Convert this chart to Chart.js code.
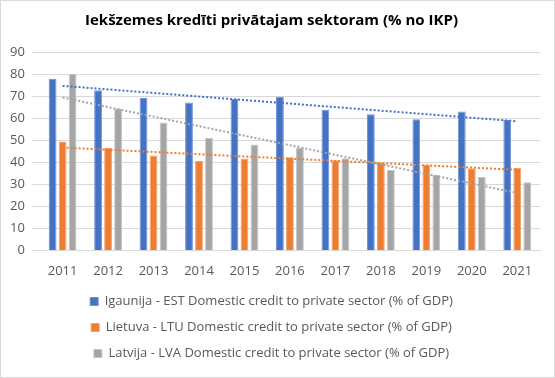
<!DOCTYPE html>
<html>
<head>
<meta charset="utf-8">
<script src="https://cdn.jsdelivr.net/npm/chart.js@4"></script>
<style>
  html, body { margin: 0; padding: 0; background: #fff; }
  #wrap { position: relative; width: 553px; height: 376px; border: 1px solid #d9d9d9; }
</style>
</head>
<body>
<div id="wrap"><canvas id="chart" width="553" height="376"></canvas></div>
<script>
// Data
const years = ['2011', '2012', '2013', '2014', '2015', '2016', '2017', '2018', '2019', '2020', '2021'];
const estValues = [77.9, 72.7, 69.1, 67.1, 68.8, 69.7, 63.8, 61.8, 59.5, 63.0, 59.2];
const ltuValues = [49.4, 46.4, 43.0, 40.6, 41.7, 42.3, 40.9, 39.9, 38.8, 37.3, 37.4];
const lvaValues = [80.0, 64.4, 58.0, 51.0, 48.0, 46.5, 41.8, 36.5, 34.2, 33.3, 30.9];
const yTicks = [0, 10, 20, 30, 40, 50, 60, 70, 80, 90];

const labelColor = '#595959';
const fontFamily = "'Open Sans', sans-serif";

// Linear trendline (least squares), as Excel draws it
function trendline(values) {
    const n = values.length;
    let sx = 0, sy = 0, sxy = 0, sxx = 0;
    values.forEach((y, x) => { sx += x; sy += y; sxy += x * y; sxx += x * x; });
    const slope = (n * sxy - sx * sy) / (n * sxx - sx * sx);
    const intercept = (sy - slope * sx) / n;
    return values.map((_, x) => intercept + slope * x);
}

function barSet(label, data, color, border) {
    return {
        type: 'bar',
        label: label,
        data: data,
        backgroundColor: color,
        borderColor: border,
        borderWidth: 1,
        categoryPercentage: 0.66,
        barPercentage: 0.78,
        order: 2
    };
}

function trendSet(data, color) {
    return {
        type: 'line',
        label: 'trend',
        data: trendline(data),
        borderColor: color,
        borderWidth: 2,
        borderDash: [2, 2],
        pointRadius: 0,
        fill: false,
        order: 1
    };
}

new Chart(document.getElementById('chart'), {
    data: {
        labels: years,
        datasets: [
            barSet('Igaunija - EST Domestic credit to private sector (% of GDP)', estValues, '#4472c4', '#6f93d6'),
            barSet('Lietuva - LTU Domestic credit to private sector (% of GDP)', ltuValues, '#ed7d31', '#f3a06c'),
            barSet('Latvija - LVA Domestic credit to private sector (% of GDP)', lvaValues, '#a5a5a5', '#c4c4c4'),
            trendSet(estValues, '#4472c4'),
            trendSet(ltuValues, '#ed7d31'),
            trendSet(lvaValues, '#a5a5a5')
        ]
    },
    options: {
        responsive: false,
        animation: false,
        layout: { padding: { left: 2, right: 14, top: 6, bottom: 7 } },
        scales: {
            x: {
                grid: { display: false },
                border: { color: '#d9d9d9' },
                ticks: { color: labelColor, font: { family: fontFamily, size: 13 }, padding: 5 },
                afterFit: axis => { axis.height -= 2; }
            },
            y: {
                min: 0,
                max: 90,
                afterBuildTicks: axis => { axis.ticks = yTicks.map(v => ({ value: v })); },
                grid: { color: '#d9d9d9' },
                border: { display: false },
                ticks: { color: labelColor, font: { family: fontFamily, size: 13 }, padding: 7 }
            }
        },
        plugins: {
            title: {
                display: true,
                text: 'Iekšzemes kredīti privātajam sektoram (% no IKP)',
                color: '#000',
                font: { family: fontFamily, size: 15, weight: 'bold' },
                padding: { top: 5, bottom: 22 }
            },
            legend: {
                position: 'bottom',
                labels: {
                    color: labelColor,
                    font: { family: fontFamily, size: 13 },
                    boxWidth: 8,
                    boxHeight: 8,
                    padding: 13,
                    filter: item => item.text !== 'trend'
                }
            },
            tooltip: { enabled: false }
        }
    }
});
</script>
</body>
</html>
